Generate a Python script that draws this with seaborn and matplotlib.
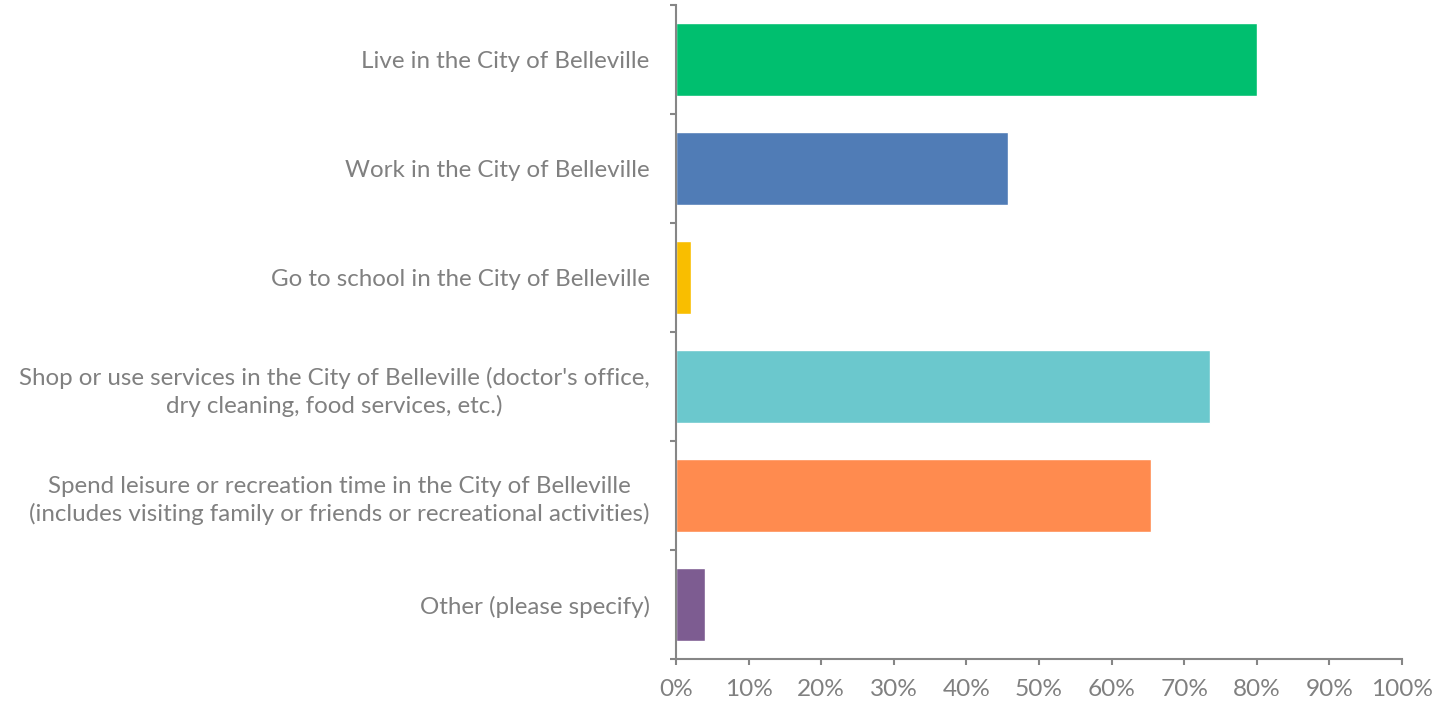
import numpy as np
import pandas as pd
import seaborn as sns
import matplotlib.pyplot as plt
from matplotlib.ticker import FixedLocator, PercentFormatter

# Survey answers and share of respondents (%)
categories = [
    "Live in the City of Belleville",
    "Work in the City of Belleville",
    "Go to school in the City of Belleville",
    "Shop or use services in the City of Belleville (doctor's office,\ndry cleaning, food services, etc.)",
    "Spend leisure or recreation time in the City of Belleville\n(includes visiting family or friends or recreational activities)",
    "Other (please specify)",
]
shares = [80.1, 45.7, 2.1, 73.5, 65.4, 4.0]
colors = ["#00BF6F", "#507CB6", "#F9BE00", "#6BC8CD", "#FF8B4F", "#7D5C91"]
xticks = list(range(0, 101, 10))

data = pd.DataFrame({"category": categories, "share": shares})

sns.set_style("white")
plt.rcParams["font.family"] = ["Lato", "DejaVu Sans"]

text_color = "#808080"
axis_color = "#868686"

fig = plt.figure(figsize=(14.41, 7.05), dpi=100)
ax = fig.add_axes([0.4691, 0.0652, 0.5038, 0.9277])

sns.barplot(data=data, x="share", y="category", hue="category",
            palette=colors, orient="h", width=0.67, legend=False, ax=ax,
            saturation=1)

ax.set_xlim(0, 100)
ax.set_ylim(len(categories) - 0.5, -0.5)
ax.set_xticks(xticks)
ax.xaxis.set_major_formatter(PercentFormatter(decimals=0))
ax.set_xlabel("")
ax.set_ylabel("")

for side in ["top", "right"]:
    ax.spines[side].set_visible(False)
for side in ["left", "bottom"]:
    ax.spines[side].set_color(axis_color)
    ax.spines[side].set_linewidth(1.5)

# category boundaries get the tick marks on the y axis
ax.yaxis.set_minor_locator(FixedLocator(np.arange(-0.5, len(categories), 1.0)))
ax.tick_params(axis="y", which="major", length=0, pad=19, labelsize=17.4,
               labelcolor=text_color)
ax.tick_params(axis="y", which="minor", left=True, length=4.5, width=1.5,
               color=axis_color)
ax.tick_params(axis="x", which="major", bottom=True, length=4.5, width=1.5,
               color=axis_color, pad=10, labelsize=17.6, labelcolor=text_color)

for lbl in ax.get_yticklabels():
    lbl.set_horizontalalignment("right")
    lbl.set_multialignment("center")
    lbl.set_linespacing(1.35)

fig.savefig("out.png", dpi=100)
